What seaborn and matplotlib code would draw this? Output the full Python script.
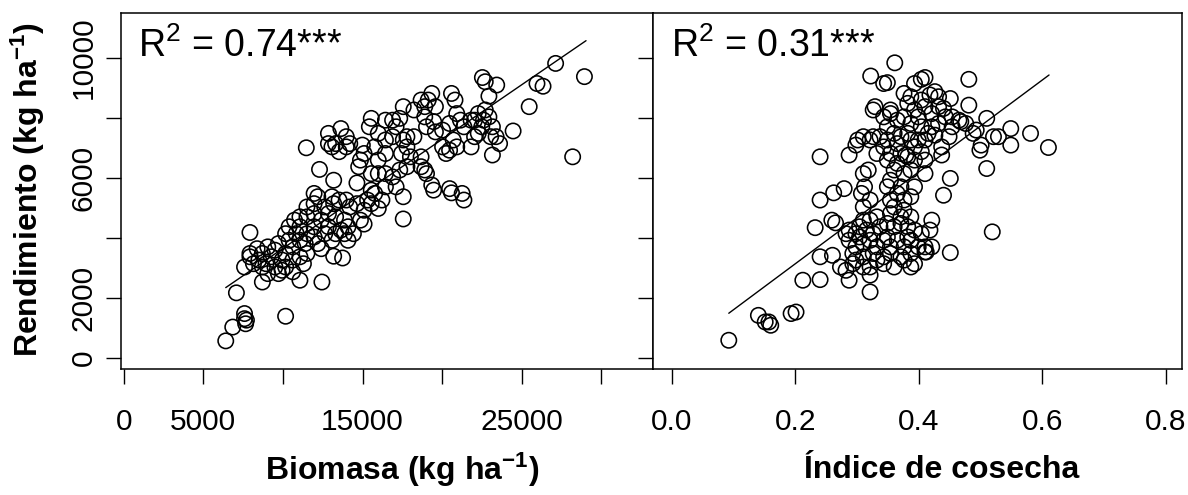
import matplotlib
matplotlib.use("Agg")
import matplotlib.pyplot as plt
import seaborn as sns
import numpy as np

# ---------------- data ----------------
# Panel 1: Biomasa (kg/ha) vs Rendimiento (kg/ha)
biomasa = [
    6410, 6850, 7590, 7710, 7660, 7590, 7080, 10170, 7930, 7590, 7930, 11470, 12300, 13190,
    17560, 12450, 13750, 13190, 11070,
    8380, 8710, 9050, 9270, 9500, 9720, 9950, 10170, 10390, 10620, 10840, 8710, 9050, 8710,
    9720, 10170, 10620, 8150, 8490, 8940, 9500, 9950, 10620, 11070, 11290, 11510, 11400,
    11070, 10170, 10390, 11070, 11510, 11960, 12190, 12410, 11960, 12410, 12860, 13310,
    13640, 14090, 13870, 13310, 12860, 11960, 11510, 11070, 11960, 12190, 12630, 13190,
    13530, 14200, 14650, 15100, 14870, 15100, 14430, 14090, 13870, 13080, 12630, 10730,
    11510, 11960, 13080, 13980, 15550, 7930,
    14650, 15550, 15990, 16440, 16890, 17340, 15770, 16220, 17560, 15550, 16440, 17110,
    15320, 15990, 14760, 15100, 17790,
    12860, 13640, 13980, 13310, 14200, 13080, 13530, 12860, 13980, 14990, 14870, 15430,
    15550, 16440, 16890, 17340, 17560, 17110, 17560, 17450, 17790, 18010, 18230, 18910,
    19130, 19580, 19350, 19470, 19020, 19580, 20030, 20470, 20590, 20810, 20920, 21150,
    21370, 20700, 20920, 21820, 22040, 22270, 22600, 22710, 22940, 23160, 23390, 23610,
    23050, 22270, 22040, 22490, 21820, 20030, 20250, 20470, 18680, 18230, 17790, 16890,
    16440, 15990, 15770, 16440, 15990, 18680, 18910,
    19020, 19350, 19470, 18680, 18910, 20470, 20590, 21260, 21370,
    22530, 22710, 23430, 22940, 23160, 24460, 25470, 25960, 26340, 27130, 28200, 28940,
]
rend_bio = [
    570, 1030, 1480, 1260, 1140, 1310, 2170, 1390, 4180, 3030, 3480, 7000, 6280, 5920,
    4630, 2530, 3330, 3390, 2590,
    3640, 3480, 3700, 3370, 3590, 3810, 3260, 3480, 3920, 3700, 4140, 3030, 2810, 2530,
    2810, 3030, 2870, 3140, 3260, 3140, 3030, 2920, 3260, 3370, 3140, 3480, 3810,
    3920, 4140, 4370, 4370, 4140, 4030, 3810, 3640, 4370, 4590, 4370, 4140,
    4260, 4370, 4590, 4700, 4810, 4810, 4700, 4700, 5140, 5370, 5030, 5140,
    5260, 5030, 5140, 4920, 4590, 4460, 4140, 3920, 4140, 3920, 4140, 4590,
    5030, 5480, 5370, 5260, 5140, 3370,
    5830, 6140, 6140, 6140, 6030, 6260, 5480, 5260, 5370, 5590, 5700, 5700,
    5260, 4980, 6370, 6810, 6370,
    7480, 7640, 7370, 7140, 7140, 7030, 6870, 7140, 7030, 7090, 6590, 7700,
    7980, 7920, 7920, 7980, 8370, 7700, 7260, 6810, 7030, 6700, 8260, 8370,
    8590, 8370, 8810, 7870, 7700, 7530, 7590, 7810, 8810, 8590, 8140, 7920,
    7700, 7260, 7030, 7030, 7370, 8140, 7920, 8260, 8030, 7700, 7370, 7140,
    7370, 7480, 7920, 7700, 7920, 7030, 6810, 6920, 6700, 7370, 7370, 7370,
    7260, 7480, 7030, 6810, 6590, 8590, 8030,
    6140, 5760, 5590, 6370, 6260, 5640, 5500, 5480, 5260,
    9340, 9200, 9090, 8720, 6760, 7560, 8370, 9140, 9050, 9810, 6700, 9370,
]

# Panel 2: Indice de cosecha vs Rendimiento (kg/ha)
indice = [
    0.092, 0.140, 0.151, 0.160, 0.157, 0.193, 0.201, 0.212, 0.240, 0.240, 0.260, 0.240,
    0.232, 0.240, 0.262, 0.259, 0.265, 0.279, 0.287, 0.322, 0.343, 0.349, 0.361, 0.393,
    0.404, 0.410, 0.481, 0.481, 0.510, 0.521, 0.529, 0.549, 0.549, 0.581, 0.610, 0.510,
    0.519, 0.451, 0.440, 0.451, 0.499, 0.501, 0.488, 0.465, 0.454, 0.440, 0.432, 0.426,
    0.418, 0.451, 0.449, 0.426, 0.437, 0.437, 0.410, 0.410, 0.421, 0.418, 0.421, 0.412,
    0.287, 0.321, 0.321, 0.321, 0.282, 0.273, 0.298, 0.310, 0.326, 0.310, 0.301, 0.326,
    0.321, 0.298, 0.310, 0.318, 0.312, 0.307, 0.321, 0.310,
    0.287, 0.298, 0.304, 0.315, 0.326, 0.337, 0.349, 0.360, 0.371, 0.382, 0.393, 0.404,
    0.287, 0.298, 0.310, 0.321, 0.332, 0.343, 0.354, 0.365, 0.376, 0.387, 0.399, 0.410,
    0.410, 0.293, 0.310, 0.326, 0.343, 0.354, 0.371, 0.387, 0.393, 0.376, 0.360, 0.343,
    0.332, 0.310, 0.293, 0.387, 0.332, 0.354, 0.371, 0.387, 0.376, 0.321, 0.304, 0.349,
    0.382, 0.282,
    0.354, 0.365, 0.376, 0.387, 0.349, 0.371, 0.354, 0.376, 0.360, 0.387, 0.365, 0.349,
    0.382, 0.371, 0.354, 0.393, 0.332, 0.343, 0.365, 0.387, 0.393, 0.379, 0.404, 0.393,
    0.360,
    0.343, 0.354, 0.365, 0.349, 0.360, 0.376, 0.387, 0.399, 0.404, 0.382, 0.393, 0.410,
    0.421, 0.432, 0.443, 0.404, 0.387, 0.376, 0.354, 0.337, 0.349, 0.371, 0.415, 0.410,
    0.399, 0.421, 0.432, 0.454, 0.468, 0.476, 0.493, 0.329, 0.382,
]
rend_ic = [
    590, 1420, 1200, 1090, 1200, 1480, 1530, 2590, 2610, 3370, 3420, 6700,
    4340, 5260, 5500, 4590, 4500, 5640, 6760, 9390, 9140, 9170, 9830, 9140,
    9280, 9340, 9280, 8420, 7980, 7370, 7370, 7640, 7090, 7480, 7010, 6310,
    4200, 3510, 5420, 5980, 6920, 7090, 7480, 7920, 8030, 8310, 8700, 8870,
    8760, 8640, 7370, 7420, 7030, 6760, 6590, 6140, 4590, 4260, 3700, 3530,
    2590, 2760, 2200, 3030, 2920, 3030, 3260, 4590, 8260, 7370, 7260, 7370,
    7260, 7090, 6140, 6260, 5700, 5480, 5260, 5030,
    4260, 4140, 4370, 4260, 4140, 4370, 4480, 4370, 4480, 4370, 4260, 4140,
    3920, 3700, 3810, 3920, 3700, 3920, 3700, 3920, 3700, 3920, 3700, 3700,
    3530, 3480, 3370, 3480, 3370, 3480, 3370, 3480, 3140, 3260, 3030, 3140,
    3260, 3030, 3140, 3030, 4700, 4810, 4700, 4700, 4920, 4590, 4030, 4030,
    4030, 4140,
    5260, 5480, 5260, 5370, 5700, 5700, 5920, 6140, 6260, 6260, 6480, 6590,
    6700, 6810, 6810, 6590, 6810, 7030, 7140, 7260, 7030, 6760, 6870, 5700,
    5030,
    8030, 8140, 7920, 7700, 7480, 8030, 7810, 8030, 7700, 7480, 8260, 8370,
    8140, 8370, 8030, 8590, 8700, 8810, 8260, 7370, 7260, 7370, 7480, 7260,
    7260, 7700, 7810, 7700, 7870, 7810, 7590, 8370, 8480,
]

# fitted regression lines (end points)
fit_bio_x = [6410, 29040]
fit_bio_y = [2344, 10567]
fit_ic_x = [0.092, 0.611]
fit_ic_y = [1490, 9424]

bio_ticks = [0, 5000, 10000, 15000, 20000, 25000, 30000]
bio_ticklabels = ["0", "5000", "", "15000", "", "25000", ""]
ic_ticks = [0.0, 0.2, 0.4, 0.6, 0.8]
ic_ticklabels = ["0.0", "0.2", "0.4", "0.6", "0.8"]
y_ticks = [0, 2000, 4000, 6000, 8000, 10000]
y_ticklabels = ["0", "2000", "", "6000", "", "10000"]

r2_texts = [r"R$^{2}$ = 0.74***", r"R$^{2}$ = 0.31***"]
xlabel_bio = r"Biomasa (kg ha$^{\mathbf{-1}}$)"
xlabel_ic = "\u00cdndice de cosecha"
ylabel = r"Rendimiento (kg ha$^{\mathbf{-1}}$)"

# ---------------- style ----------------
sns.set_style("ticks")
plt.rcParams["font.family"] = ["Liberation Sans", "DejaVu Sans"]
plt.rcParams["mathtext.fontset"] = "custom"
plt.rcParams["mathtext.rm"] = "Liberation Sans"
plt.rcParams["mathtext.it"] = "Liberation Sans"
plt.rcParams["mathtext.bf"] = "Liberation Sans:bold"
plt.rcParams["mathtext.default"] = "regular"
plt.rcParams["text.color"] = "black"
plt.rcParams["axes.labelcolor"] = "black"
plt.rcParams["xtick.color"] = "black"
plt.rcParams["ytick.color"] = "black"

W, H = 1188, 495
fig = plt.figure(figsize=(W / 100, H / 100), dpi=100)
fig.patch.set_facecolor("white")

def fx(px):
    return px / W

def fy(py):
    return 1 - py / H

top_px, bot_px = 13.0, 368.5
ax1 = fig.add_axes([fx(120.7), fy(bot_px), fx(652.7) - fx(120.7), fy(top_px) - fy(bot_px)])
ax2 = fig.add_axes([fx(652.7), fy(bot_px), fx(1181.7) - fx(652.7), fy(top_px) - fy(bot_px)])

ylim = (-350, 11489)
marker_s = 122

for ax, xs, ys, fxs, fys in [(ax1, biomasa, rend_bio, fit_bio_x, fit_bio_y),
                              (ax2, indice, rend_ic, fit_ic_x, fit_ic_y)]:
    ax.set_facecolor("white")
    sns.scatterplot(x=xs, y=ys, ax=ax, s=marker_s, marker="o", linewidth=1.1,
                    legend=False, zorder=3)
    coll = ax.collections[-1]
    coll.set_facecolor("none")
    coll.set_edgecolor("black")
    coll.set_linewidth(1.15)
    sns.lineplot(x=fxs, y=fys, ax=ax, color="black", linewidth=1.0, zorder=2)
    for sp in ax.spines.values():
        sp.set_visible(True)
        sp.set_linewidth(1.1)
        sp.set_color("black")
    ax.set_ylim(*ylim)
    ax.set_xlabel("")
    ax.set_ylabel("")
    ax.tick_params(axis="both", direction="out", length=10.5, width=1.0,
                   color="black", labelsize=21.5, labelcolor="black")
    ax.tick_params(axis="x", pad=18)

ax1.set_xlim(-188, 33228)
ax2.set_xlim(-0.0313, 0.826)

ax1.set_xticks(bio_ticks)
ax1.set_xticklabels(bio_ticklabels)
ax2.set_xticks(ic_ticks)
ax2.set_xticklabels(ic_ticklabels)

ax1.set_yticks(y_ticks)
ax1.set_yticklabels(y_ticklabels, rotation=90, va="center")
ax1.tick_params(axis="y", pad=6)
ax2.set_yticks(y_ticks)
ax2.set_yticklabels([])

ax1.text(0.033, 0.875, r2_texts[0], transform=ax1.transAxes, fontsize=27,
         ha="left", va="baseline", color="black")
ax2.text(0.035, 0.875, r2_texts[1], transform=ax2.transAxes, fontsize=27,
         ha="left", va="baseline", color="black")

fig.text(fx(402), fy(470), xlabel_bio, fontsize=23, fontweight="bold",
         ha="center", va="center")
fig.text(fx(942), fy(470), xlabel_ic, fontsize=23, fontweight="bold",
         ha="center", va="center")
fig.text(fx(28), fy(190), ylabel, fontsize=23, fontweight="bold", rotation=90,
         ha="center", va="center")

fig.savefig("out.png", dpi=100)
